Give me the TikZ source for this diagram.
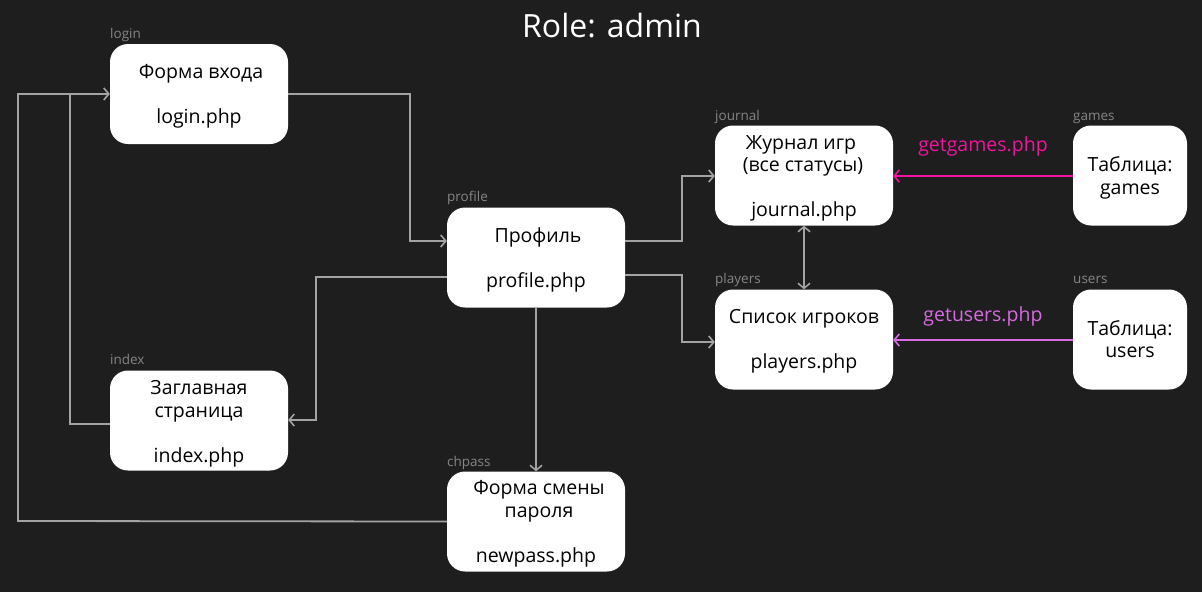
\documentclass[tikz,border=0pt]{standalone}
\usepackage{fontspec}
\setmainfont{Open Sans}
\usetikzlibrary{arrows.meta}
\definecolor{bg}{HTML}{1E1E1E}
\definecolor{conn}{HTML}{A3A3A3}
\definecolor{lbl}{HTML}{858585}
\definecolor{pinkc}{HTML}{F0149E}
\definecolor{violc}{HTML}{D86AE2}
\begin{document}
\begin{tikzpicture}[x=1pt,y=-1pt,
  box/.style={draw=none,fill=white,rounded corners=18pt,inner sep=0pt,minimum height=100pt},
  wide/.style={box,minimum width=178pt},
  narrow/.style={box,minimum width=114pt},
  txt/.style={text=black,font=\fontsize{19.5}{22}\selectfont,inner sep=0pt,text height=0.72em,text depth=0.22em,yshift=-3.5pt},
  tag/.style={text=lbl,font=\fontsize{13.5}{15}\selectfont,inner sep=0pt,anchor=base west},
  ctxt/.style={font=\fontsize{19.5}{22}\selectfont,inner sep=0pt,text height=0.72em,text depth=0.22em,yshift=-3.5pt},
  link/.style={draw=conn,line width=1.8pt,-{Straight Barb[length=5pt,width=12pt,line width=1.6pt]}},
  blink/.style={draw=conn,line width=1.8pt,{Straight Barb[length=5pt,width=12pt,line width=1.6pt]}-{Straight Barb[length=5pt,width=12pt,line width=1.6pt]}},
  plink/.style={draw=pinkc,line width=1.8pt,-{Straight Barb[length=5pt,width=12pt,line width=1.6pt]}},
  vlink/.style={draw=violc,line width=1.8pt,-{Straight Barb[length=5pt,width=12pt,line width=1.6pt]}},
  line/.style={draw=conn,line width=1.8pt}
]
\fill[bg] (0,0) rectangle (1202,592);
\useasboundingbox (0,0) rectangle (1202,592);

\node[text=white,font=\fontsize{32}{36}\selectfont,inner sep=0pt] (title) at (612,26) {Role: admin};

% boxes
\node[wide] (login) at (199,94) {};
\node[wide] (profile) at (536,257.5) {};
\node[wide] (journal) at (804,175.5) {};
\node[wide] (players) at (804,339.5) {};
\node[narrow] (games) at (1130,175.5) {};
\node[narrow] (users) at (1130,339.5) {};
\node[wide] (index) at (199,420.5) {};
\node[wide] (chpass) at (536,521.5) {};

% tags
\node[tag] (tlogin) at (110,38) {login};
\node[tag] (tprofile) at (447,201) {profile};
\node[tag] (tjournal) at (715,120) {journal};
\node[tag] (tgames) at (1073,120) {games};
\node[tag] (tplayers) at (715,283) {players};
\node[tag] (tusers) at (1073,283) {users};
\node[tag] (tindex) at (110,364) {index};
\node[tag] (tchpass) at (447,466) {chpass};

% texts
\node[txt] (l1) at (201,72) {Форма входа};
\node[txt] (l2) at (199,117) {login.php};
\node[txt] (p1) at (538,236) {Профиль};
\node[txt] (p2) at (536,281) {profile.php};
\node[txt] (j1) at (801,143) {Журнал игр};
\node[txt] (j2) at (803,165) {(все статусы)};
\node[txt] (j3) at (804,210) {journal.php};
\node[txt] (pl1) at (804,317) {Список игроков};
\node[txt] (pl2) at (804,362) {players.php};
\node[txt] (g1) at (1130,165) {Таблица:};
\node[txt] (g2) at (1130,188) {games};
\node[txt] (u1) at (1130,329) {Таблица:};
\node[txt] (u2) at (1130,351) {users};
\node[txt] (i1) at (199,388) {Заглавная};
\node[txt] (i2) at (199,411) {страница};
\node[txt] (i3) at (199,456) {index.php};
\node[txt] (c1) at (539,488) {Форма смены};
\node[txt] (c2) at (539,511) {пароля};
\node[txt] (c3) at (536,556) {newpass.php};

% connectors
\coordinate (a1) at (410,94);
\coordinate (a2) at (410,241);
\draw[link] (login.east) -- (a1) -- (a2) -- ([yshift=16.5pt]profile.west);

\coordinate (b1) at (682,241);
\coordinate (b2) at (682,176);
\draw[link] ([yshift=16.5pt]profile.east) -- (b1) -- (b2) -- ([yshift=-0.5pt]journal.west);

\coordinate (c1c) at (682,275);
\coordinate (c2c) at (682,342);
\draw[link] ([yshift=-17.5pt]profile.east) -- (c1c) -- (c2c) -- ([yshift=-2.5pt]players.west);

\draw[blink] (journal.south) -- (players.north);

\draw[plink] ([yshift=-0.5pt]games.west) -- ([yshift=-0.5pt]journal.east);
\node[ctxt,text=pinkc] (gg) at (983,145) {getgames.php};
\draw[vlink] ([yshift=-0.5pt]users.west) -- ([yshift=-0.5pt]players.east);
\node[ctxt,text=violc] (gu) at (983,315) {getusers.php};

\coordinate (d1) at (316,277);
\coordinate (d2) at (316,420);
\draw[link] ([yshift=-19.5pt]profile.west) -- (d1) -- (d2) -- ([yshift=0.5pt]index.east);

\draw[link] (profile.south) -- (chpass.north);

\coordinate (e1) at (70,424);
\coordinate (e2) at (70,94);
\draw[line] ([yshift=-3.5pt]index.west) -- (e1) -- (e2);

\coordinate (f1) at (18,521);
\coordinate (f2) at (18,94);
\draw[link] (chpass.west) -- (f1) -- (f2) -- (login.west);
\end{tikzpicture}
\end{document}
